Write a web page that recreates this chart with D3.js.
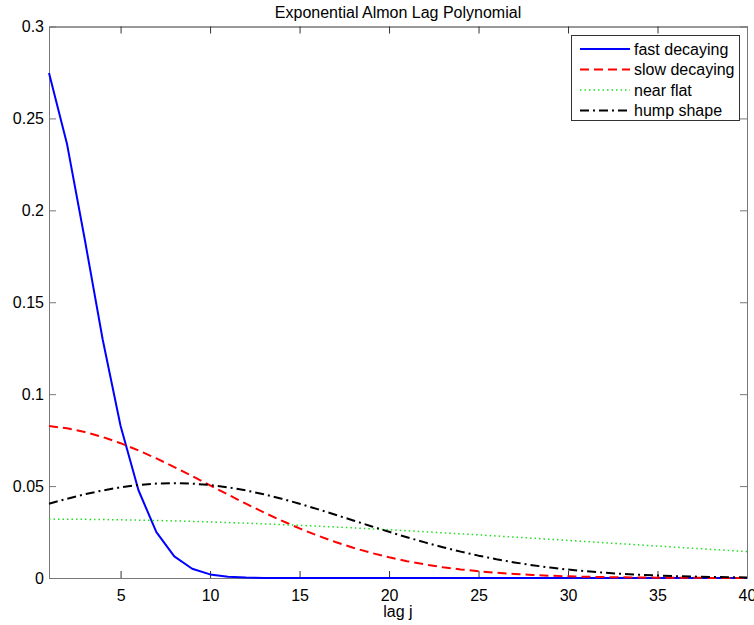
<!DOCTYPE html>
<html><head><meta charset="utf-8">
<script src="https://cdn.jsdelivr.net/npm/d3@7"></script>
<style>body{margin:0;background:#fff}svg{display:block}text{font-family:Arial,"Liberation Sans",sans-serif;fill:#000}</style>
</head><body><svg id="c" width="754" height="625"></svg>
<script>
const lags = d3.range(1, 41);
const fastDecaying = [0.27466,0.23640,0.18411,0.12974,0.08272,0.04773,0.02492,0.01177,0.00503,0.00195,0.00068,0.00022,0.00006,0.00002,0,0,0,0,0,0,0,0,0,0,0,0,0,0,0,0,0,0,0,0,0,0,0,0,0,0];
const slowDecaying = [0.08268,0.08145,0.07944,0.07670,0.07333,0.06940,0.06504,0.06034,0.05542,0.05040,0.04537,0.04044,0.03569,0.03119,0.02698,0.02310,0.01959,0.01644,0.01367,0.01125,0.00916,0.00739,0.00590,0.00466,0.00365,0.00283,0.00217,0.00165,0.00124,0.00092,0.00068,0.00050,0.00036,0.00026,0.00018,0.00013,0.00009,0.00006,0.00004,0.00003];
const nearFlat = [0.03204,0.03199,0.03191,0.03180,0.03165,0.03148,0.03128,0.03104,0.03078,0.03049,0.03017,0.02982,0.02945,0.02906,0.02864,0.02820,0.02774,0.02726,0.02676,0.02624,0.02571,0.02516,0.02460,0.02403,0.02345,0.02286,0.02226,0.02166,0.02105,0.02044,0.01982,0.01921,0.01859,0.01798,0.01737,0.01677,0.01616,0.01557,0.01498,0.01440];
const humpShape = [0.04039,0.04310,0.04554,0.04763,0.04933,0.05058,0.05134,0.05160,0.05134,0.05058,0.04933,0.04763,0.04554,0.04310,0.04039,0.03747,0.03442,0.03130,0.02818,0.02512,0.02217,0.01937,0.01675,0.01435,0.01216,0.01021,0.00849,0.00698,0.00569,0.00459,0.00366,0.00290,0.00227,0.00176,0.00135,0.00102,0.00077,0.00057,0.00042,0.00031];
const seriesNames = ["fast decaying","slow decaying","near flat","hump shape"];
const xTicks = [5,10,15,20,25,30,35,40];
const yTicks = [0,0.05,0.1,0.15,0.2,0.25,0.3];
const yTickLabels = ["0","0.05","0.1","0.15","0.2","0.25","0.3"];
const titleText = "Exponential Almon Lag Polynomial";
const xLabel = "lag j";

const svg = d3.select("#c");
const L = 49, R = 747, T = 26.5, B = 578;
const x = d3.scaleLinear().domain([1, 40]).range([L, R]);
const y = d3.scaleLinear().domain([0, 0.3]).range([B, T]);

const styles = [
  {color:"#0000ff", w:2, dash:null},
  {color:"#ff0000", w:2, dash:"9,5"},
  {color:"#22dd22", w:1.5, dash:"1.5,3"},
  {color:"#000000", w:2, dash:"9,4,2,4"}
];
const data = [fastDecaying, slowDecaying, nearFlat, humpShape];

// axes (inward ticks, box)
const tl = 7;
svg.append("g").attr("transform",`translate(0,${B})`)
  .call(d3.axisBottom(x).tickValues(xTicks).tickSizeInner(-tl).tickSizeOuter(0).tickPadding(12).tickFormat(d3.format("d")))
  .call(g=>g.select(".domain").attr("stroke","#777"))
  .call(g=>g.selectAll(".tick line").attr("stroke","#333"))
  .call(g=>g.selectAll("text").attr("font-size",16).attr("font-family","Arial, Liberation Sans, sans-serif").attr("fill","#000"));
svg.append("g").attr("transform",`translate(0,${T})`)
  .call(d3.axisTop(x).tickValues(xTicks).tickSizeInner(-tl).tickSizeOuter(0).tickFormat(""))
  .call(g=>g.select(".domain").attr("stroke","#333"))
  .call(g=>g.selectAll(".tick line").attr("stroke","#333"));
svg.append("g").attr("transform",`translate(${L},0)`)
  .call(d3.axisLeft(y).tickValues(yTicks).tickSizeInner(-tl).tickSizeOuter(0).tickPadding(5).tickFormat((d,i)=>yTickLabels[i]))
  .call(g=>g.select(".domain").attr("stroke","#777"))
  .call(g=>g.selectAll(".tick line").attr("stroke","#777"))
  .call(g=>g.selectAll("text").attr("font-size",16).attr("font-family","Arial, Liberation Sans, sans-serif").attr("fill","#000"));
svg.append("g").attr("transform",`translate(${R},0)`)
  .call(d3.axisRight(y).tickValues(yTicks).tickSizeInner(-tl).tickSizeOuter(0).tickFormat(""))
  .call(g=>g.select(".domain").attr("stroke","#777"))
  .call(g=>g.selectAll(".tick line").attr("stroke","#777"));

const line = d3.line().x((d,i)=>x(lags[i])).y(d=>y(d));
// draw order: fast, slow, flat, hump
data.forEach((s,k)=>{
  svg.append("path").datum(s).attr("d",line).attr("fill","none")
    .attr("stroke",styles[k].color).attr("stroke-width",styles[k].w)
    .attr("stroke-dasharray",styles[k].dash).attr("stroke-linejoin","round");
});

// title and label
svg.append("text").attr("x",(L+R)/2).attr("y",18).attr("text-anchor","middle").attr("font-size",16).text(titleText);
svg.append("text").attr("x",(L+R)/2).attr("y",617).attr("text-anchor","middle").attr("font-size",16).text(xLabel);

// legend
const lg = svg.append("g");
lg.append("rect").attr("x",571.5).attr("y",35.5).attr("width",168).attr("height",85).attr("fill","#fff").attr("stroke","#333").attr("stroke-width",1);
seriesNames.forEach((n,k)=>{
  const yy = 49 + k*20.5;
  lg.append("line").attr("x1",580).attr("x2",630).attr("y1",yy).attr("y2",yy)
    .attr("stroke",styles[k].color).attr("stroke-width",styles[k].w).attr("stroke-dasharray",styles[k].dash);
  lg.append("text").attr("x",634).attr("y",yy+5.5).attr("font-size",16).text(n);
});
</script></body></html>
